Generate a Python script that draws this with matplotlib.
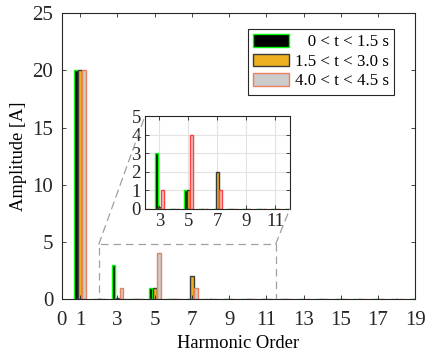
import numpy as np
import matplotlib.pyplot as plt
from matplotlib.patches import Rectangle, ConnectionPatch

plt.rcParams['font.family'] = ['Liberation Serif', 'DejaVu Serif']

# Donnees
harmoniques = np.arange(1, 20)
serie_1 = [20, 0, 3, 0, 1, 0, 0, 0, 0, 0, 0, 0, 0, 0, 0, 0, 0, 0, 0]
serie_2 = [20, 0, 0.1, 0, 1, 0, 2, 0, 0, 0, 0, 0, 0, 0, 0, 0, 0, 0, 0]
serie_3 = [20, 0, 1, 0, 4, 0, 1, 0, 0, 0, 0, 0, 0, 0, 0, 0, 0, 0, 0]
# espaces en tete pour aligner a droite comme dans l'original
etiquettes = ['   0 < t < 1.5 s', '1.5 < t < 3.0 s', '4.0 < t < 4.5 s']
ticks_x = [0, 1, 3, 5, 7, 9, 11, 13, 15, 17, 19]
ticks_x_zoom = [3, 5, 7, 9, 11]

largeur = 0.2
decalage = 0.22
styles = [
    dict(facecolor='black', edgecolor='#00ff00'),
    dict(facecolor='#edb120', edgecolor='#3a3a3a'),
    dict(facecolor='#cccccc', edgecolor='#e8825a'),
]
styles_zoom = [
    dict(facecolor='black', edgecolor='#00ff00'),
    dict(facecolor='#edb120', edgecolor='#3a3a3a'),
    dict(facecolor='#e0c8c8', edgecolor='#ff4040'),
]
series = [serie_1, serie_2, serie_3]


def tracer_barres(ax, styles_barres, labels=None):
    for i, (valeurs, st) in enumerate(zip(series, styles_barres)):
        ax.bar(harmoniques + (i - 1) * decalage, valeurs, width=largeur,
               linewidth=1.0, label=labels[i] if labels else None, **st)


def style_axes(a, taille, pad):
    a.tick_params(direction='in', top=True, right=True, labelsize=taille,
                  length=3, width=0.6, colors='#262626', pad=pad)
    for s in a.spines.values():
        s.set_linewidth(0.8)
        s.set_color('#262626')


fig = plt.figure(figsize=(4.25, 3.54), dpi=100)
ax = fig.add_axes([0.145, 0.155, 0.832, 0.808])
tracer_barres(ax, styles, etiquettes)
ax.set_xlim(0, 19)
ax.set_ylim(0, 25)
ax.set_xticks(ticks_x)
ax.set_yticks([0, 5, 10, 15, 20, 25])
style_axes(ax, 15, 6)
ax.tick_params(axis='x', pad=8.5)
ax.set_xlabel('Harmonic Order', fontsize=13.3, labelpad=4)
ax.set_ylabel('Amplitude [A]', fontsize=13.3, labelpad=4)

leg = ax.legend(loc='upper right', bbox_to_anchor=(0.939, 0.945), fontsize=12.2,
                fancybox=False, edgecolor='#262626', framealpha=1,
                handlelength=2.15, handleheight=0.78, handletextpad=0.3,
                borderpad=0.3, labelspacing=0.2, borderaxespad=0)
leg.get_frame().set_linewidth(0.8)

# Rectangle de zoom
ax.add_patch(Rectangle((2.0, 0), 9.5, 4.8, fill=False, edgecolor='#a0a0a0',
                       linestyle=(0, (6, 4)), linewidth=0.9, zorder=5))

# Encart
axi = fig.add_axes([0.341, 0.41, 0.341, 0.262])
tracer_barres(axi, styles_zoom)
axi.set_xlim(2, 12)
axi.set_ylim(0, 5)
axi.set_xticks(ticks_x_zoom)
axi.set_yticks([0, 1, 2, 3, 4, 5])
axi.grid(True, color='#e3e3e3', linewidth=0.8)
axi.set_axisbelow(True)
style_axes(axi, 13.5, 3)

for (xa, ya), (xb, yb) in [((2.0, 4.8), (0, 1)), ((11.5, 4.8), (1, 0))]:
    con = ConnectionPatch(xyA=(xa, ya), coordsA=ax.transData,
                          xyB=(xb, yb), coordsB=axi.transAxes,
                          color='#a0a0a0', linestyle=(0, (6, 4)), linewidth=0.9)
    fig.add_artist(con)

fig.savefig('out.png', dpi=100)
